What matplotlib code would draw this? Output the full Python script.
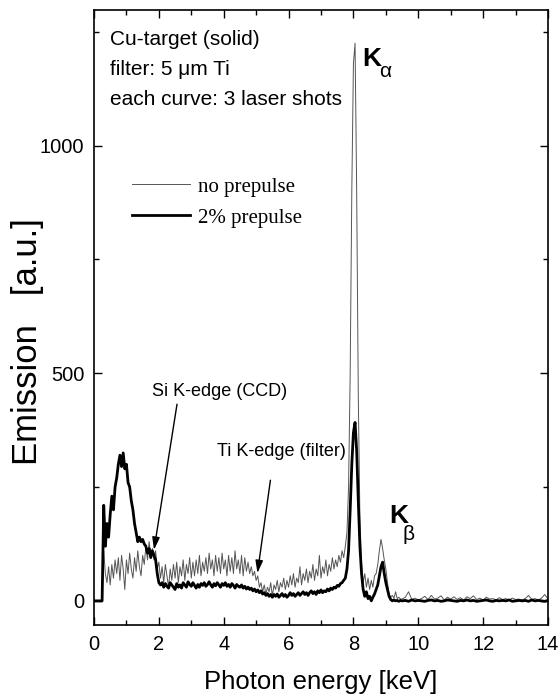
import numpy as np
import matplotlib
matplotlib.use("Agg")
import matplotlib.pyplot as plt

# ---- data ----
energy_main = np.round(np.arange(0.0, 9.5, 0.05), 2)      # keV grid, 0 .. 9.45
energy_tail = np.round(np.arange(9.5, 14.05, 0.1), 2)     # keV grid, 9.5 .. 14.0

prepulse_main = [
    0, 0, 0, 0, 0, 0, 210, 120, 170, 140,
    190, 230, 200, 250, 270, 300, 320, 295, 325, 290,
    300, 260, 250, 220, 200, 170, 150, 130, 140, 130,
    135, 125, 120, 105, 115, 95, 110, 100, 90, 60,
    40, 35, 40, 30, 38, 32, 28, 40, 35, 30,
    25, 38, 30, 35, 28, 40, 35, 30, 42, 36,
    32, 40, 34, 28, 36, 30, 38, 34, 40, 32,
    36, 42, 35, 30, 38, 33, 40, 35, 30, 38,
    34, 40, 32, 36, 30, 38, 34, 28, 36, 32,
    30, 35, 28, 32, 26, 30, 25, 28, 22, 26,
    20, 24, 18, 22, 15, 18, 12, 16, 10, 14,
    8, 14, 10, 15, 8, 12, 16, 10, 14, 8,
    12, 18, 12, 16, 10, 14, 18, 12, 16, 20,
    14, 18, 12, 18, 22, 16, 20, 14, 22, 18,
    24, 18, 22, 20, 26, 22, 28, 25, 30, 28,
    34, 32, 38, 40, 45, 50, 70, 110, 200, 300,
    370, 392, 330, 220, 120, 60, 25, 10, 20, 5,
    10, 0, 8, 15, 25, 35, 55, 75, 85, 60,
    40, 25, 10, 3, 0, 2, 0, 1, -1, 1,
]
noprepulse_main = [
    0, 0, 0, 0, 0, 0, 110, 60, 40, 75,
    35, 80, 50, 90, 60, 95, 45, 100, 70, 25,
    90, 60, 105, 70, 50, 95, 65, 110, 75, 55,
    100, 80, 120, 90, 130, 100, 115, 90, 110, 70,
    85, 50, 75, 40, 80, 55, 30, 70, 45, 80,
    50, 85, 40, 75, 55, 90, 45, 80, 60, 95,
    50, 85, 55, 90, 60, 100, 55, 85, 65, 95,
    60, 105, 70, 90, 55, 100, 65, 95, 60, 105,
    70, 90, 55, 100, 65, 95, 60, 110, 70, 90,
    60, 100, 55, 95, 65, 85, 60, 75, 55, 65,
    45, 55, 30, 40, 20, 35, 15, 30, 20, 40,
    10, 35, 25, 45, 20, 40, 30, 50, 25, 45,
    30, 55, 35, 60, 30, 50, 40, 75, 35, 60,
    45, 70, 40, 65, 50, 80, 45, 70, 55, 100,
    50, 75, 60, 90, 55, 80, 65, 95, 70, 90,
    75, 100, 85, 110, 95, 120, 150, 250, 500, 900,
    1180, 1225, 900, 450, 180, 80, 40, 60, 30, 50,
    25, 45, 30, 55, 60, 80, 110, 135, 115, 90,
    70, 40, 15, 8, 12, 6, 20, 5, 8, 4,
]
prepulse_tail = [
    0, 1, -1, 2, 0, 1, 0, -1, 1, 2,
    0, 1, -1, 0, 2, 1, 0, -1, 1, 0,
    2, 0, 1, -1, 0, 1, 2, 0, -1, 1,
    0, 1, 0, 2, -1, 0, 1, 0, 1, -1,
    2, 0, 1, 0, -1, 1,
]
noprepulse_tail = [
    4, 8, 20, 3, 6, 2, 5, 10, 3, 12,
    4, 6, 11, 2, 8, 4, 9, 3, 7, 2,
    9, 5, 11, 3, 6, 2, 8, 4, 5, 2,
    7, 3, 5, 2, 6, 3, 4, 2, 5, 12,
    3, 5, 2, 6, 14, 4,
]

energy = np.concatenate([energy_main, energy_tail])
no_prepulse = np.concatenate([noprepulse_main, noprepulse_tail])
prepulse_2pc = np.concatenate([prepulse_main, prepulse_tail])

x_ticks = [0, 2, 4, 6, 8, 10, 12, 14]
y_ticks = [0, 500, 1000]

SANS = ["Liberation Sans", "DejaVu Sans"]
SERIF = ["Liberation Serif", "DejaVu Serif"]
plt.rcParams["font.family"] = SANS

fig = plt.figure(figsize=(5.6, 7.0), dpi=100)
W, H = 560.0, 700.0
ax = fig.add_axes([94 / W, 1 - 625 / H, (548 - 94) / W, (625 - 10) / H])

ax.plot(energy, no_prepulse, color="#555555", lw=0.7, label="no prepulse")
ax.plot(energy, prepulse_2pc, color="black", lw=2.0, label="2% prepulse")

ax.set_xlim(0, 14)
ax.set_ylim(-53, 1298)
ax.set_xticks(x_ticks)
ax.set_xticks(np.arange(1, 14, 2), minor=True)
ax.set_yticks(y_ticks)
ax.set_yticks([250, 750, 1250], minor=True)
ax.tick_params(which="both", direction="in", top=True, right=True, width=1.0,
               labelsize=14.5, pad=7)
ax.tick_params(which="major", length=6)
ax.tick_params(which="minor", length=3.6)
for s in ax.spines.values():
    s.set_linewidth(1.2)

ax.set_xlabel("Photon energy [keV]", fontsize=18.5, labelpad=12)
ax.set_ylabel("Emission   [a.u.]", fontsize=25)
ax.yaxis.label.set_va("center")
ax.yaxis.set_label_coords(28 / W, 1 - 342 / H, transform=fig.transFigure)

# annotations
ax.text(0.49, 1233, "Cu-target (solid)", fontsize=15, va="center")
ax.text(0.49, 1167, "filter: 5 \u03bcm Ti", fontsize=15, va="center")
ax.text(0.49, 1101, "each curve: 3 laser shots", fontsize=15, va="center")

ax.text(8.28, 1176, "K", fontsize=19, fontweight="bold", va="baseline")
ax.text(8.79, 1150, "\u03b1", fontsize=15, va="baseline")
ax.text(9.09, 171, "K", fontsize=19, fontweight="bold", va="baseline")
ax.text(9.52, 134, "\u03b2", fontsize=15, va="baseline")

ax.text(1.8, 460, "Si K-edge (CCD)", fontsize=13, va="center")
ax.text(3.8, 328, "Ti K-edge (filter)", fontsize=13, va="center")

arrow = dict(arrowstyle="-|>,head_length=0.5,head_width=0.15", color="black",
             lw=1.0, mutation_scale=15, shrinkA=0, shrinkB=0)
ax.annotate("", xy=(1.85, 112), xytext=(2.56, 432), arrowprops=arrow)
ax.annotate("", xy=(5.04, 61), xytext=(5.44, 265), arrowprops=arrow)

leg = ax.legend(loc="upper left", bbox_to_anchor=(132 / W, 1 - 177 / H),
                bbox_transform=fig.transFigure, frameon=False,
                prop={"family": SERIF, "size": 15}, handlelength=2.8,
                handletextpad=0.35, labelspacing=0.55, borderpad=0,
                borderaxespad=0)

fig.savefig("out.png", dpi=100)
